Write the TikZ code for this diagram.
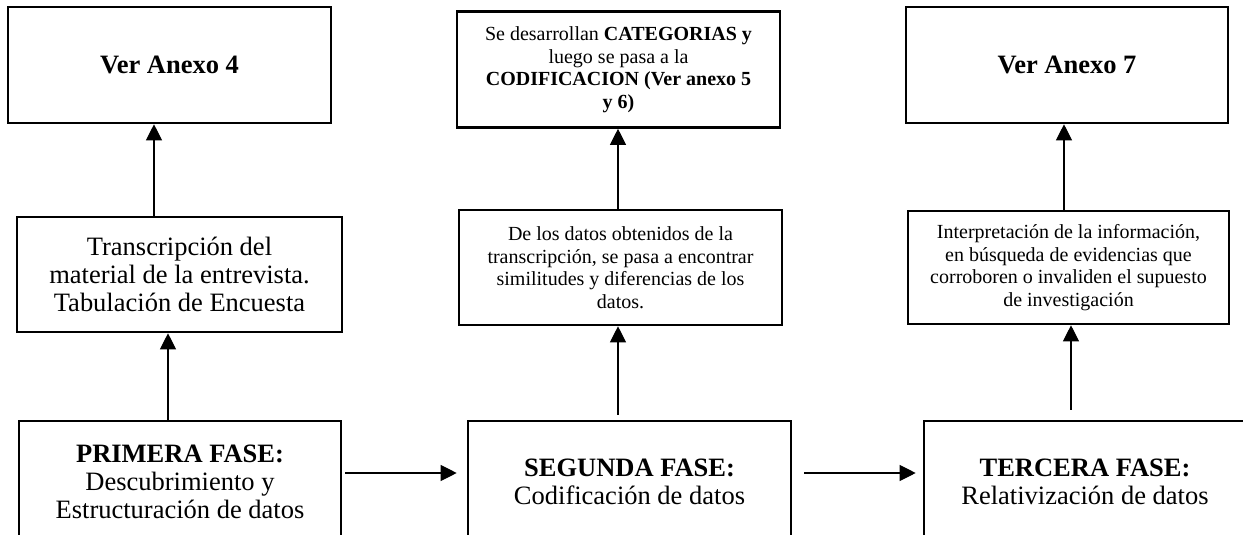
\documentclass[tikz,border=0pt]{standalone}
\usepackage{fontspec}
\setmainfont{Liberation Serif}
\usetikzlibrary{arrows.meta}

\begin{document}
\begin{tikzpicture}[x=1pt,y=-1pt,
  caja/.style={draw,line width=2.6pt,inner sep=0pt,align=center},
  grande/.style={font=\fontsize{26.5}{28}\selectfont},
  chica/.style={font=\fontsize{20}{22.5}\selectfont},
  flecha/.style={-{Triangle[length=16pt,width=16pt]},line width=1.1pt}]
% page
\useasboundingbox (0,0) rectangle (1243,535);

% first column
\node[caja,grande,minimum width=323pt,minimum height=116pt] (A) at (169.5,65) {\textbf{Ver Anexo 4}};
\node[caja,grande,minimum width=325pt,minimum height=115pt] (B) at (179.5,274.5) {Transcripción del\\ material de la entrevista.\\ Tabulación de Encuesta};
\node[caja,grande,minimum width=322pt,minimum height=122pt] (C) at (180,482) {\textbf{PRIMERA FASE:}\\ Descubrimiento y\\ Estructuración de datos};

% second column
\node[caja,chica,minimum width=323pt,minimum height=116pt] (D) at (618.5,69.5) {Se desarrollan \textbf{CATEGORIAS y}\\ luego se pasa a la\\ \textbf{CODIFICACION (Ver anexo 5}\\ \textbf{y 6)}};
\node[caja,chica,minimum width=323pt,minimum height=115pt] (E) at (620.5,267.5) {De los datos obtenidos de la\\ transcripción, se pasa a encontrar\\ similitudes y diferencias de los\\ datos.};
\node[caja,grande,minimum width=323pt,minimum height=122pt] (F) at (629.5,482) {\textbf{SEGUNDA FASE:}\\ Codificación de datos};

% third column
\node[caja,grande,minimum width=322pt,minimum height=116pt] (G) at (1067,65) {\textbf{Ver Anexo 7}};
\node[caja,chica,minimum width=321pt,minimum height=113pt] (H) at (1068.5,267.5) {Interpretación de la información,\\ en búsqueda de evidencias que\\ corroboren o invaliden el supuesto\\ de investigación};
\node[caja,grande,minimum width=322pt,minimum height=122pt] (I) at (1085,482) {\textbf{TERCERA FASE:}\\ Relativización de datos};

\draw[flecha] ([xshift=-25.5pt]B.north) -- ([xshift=-15.5pt]A.south);
\draw[flecha] ([xshift=-12pt]C.north) -- ([xshift=-11.5pt]B.south);
\draw[flecha] ([xshift=-2.5pt]E.north) -- ([xshift=-0.5pt]D.south);
\draw[flecha,shorten <=5pt] ([xshift=-11.5pt]F.north) -- ([xshift=-2.5pt]E.south);
\draw[flecha] ([xshift=-4.5pt]H.north) -- ([xshift=-3pt]G.south);
\draw[flecha,shorten <=10pt] ([xshift=-14pt]I.north) -- ([xshift=2.5pt]H.south);
\draw[flecha,shorten <=3pt,shorten >=10pt] ([yshift=9pt]C.east) -- ([yshift=9pt]F.west);
\draw[flecha,shorten <=12pt,shorten >=7pt] ([yshift=9pt]F.east) -- ([yshift=9pt]I.west);
\end{tikzpicture}
\end{document}
